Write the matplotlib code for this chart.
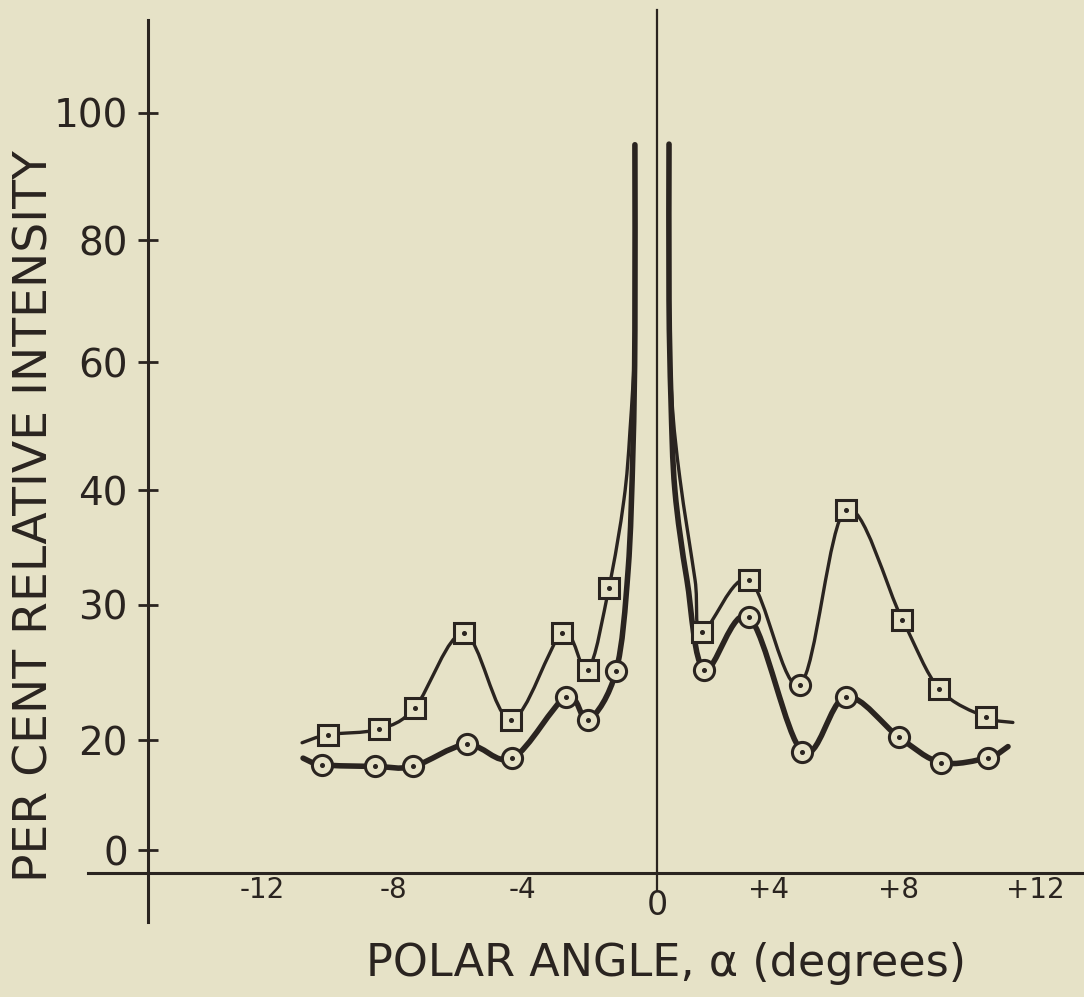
import numpy as np
import matplotlib
matplotlib.use("Agg")
import matplotlib.pyplot as plt
from matplotlib.path import Path
from matplotlib.patches import PathPatch
from matplotlib.transforms import Affine2D

# --- data (degrees, per cent) ---
# upper curve (squares), left and right of the central beam
sq_left_x = [-10.12, -8.56, -7.45, -5.94, -4.50, -2.92, -2.13, -1.48]
sq_left_y = [20.4, 20.8, 22.4, 27.9, 21.5, 27.9, 25.2, 31.5]
sq_right_x = [1.39, 2.83, 4.40, 5.81, 7.55, 8.68, 10.11]
sq_right_y = [28.0, 32.2, 24.1, 38.3, 28.9, 23.8, 21.7]
sq_right_kind = ["s", "s", "o", "s", "s", "s", "s"]  # one point drawn as a circle

# lower curve (circles)
ci_left_x = [-10.30, -8.68, -7.50, -5.86, -4.45, -2.80, -2.11, -1.26]
ci_left_y = [15.5, 15.2, 15.2, 19.2, 16.7, 23.2, 21.5, 25.1]
ci_right_x = [1.46, 2.83, 4.47, 5.81, 7.45, 8.74, 10.19]
ci_right_y = [25.2, 29.1, 17.9, 23.2, 20.2, 15.9, 16.8]

# line ends without a marker (tails and the rise into the direct beam)
sq_left_tail = ([-10.92], [19.5])
ci_left_tail = ([-10.89], [16.7])
sq_right_tail = ([10.95], [21.3])
ci_right_tail = ([10.80], [18.8])
sq_left_peak = ([-1.02, -0.83, -0.68, -0.68], [39.1, 49.4, 65.2, 95.0])
ci_left_peak = ([-0.89, -0.74, -0.68, -0.68], [33.0, 46.3, 65.2, 95.0])
sq_right_peak = ([0.37, 0.37, 0.46, 0.71, 1.17], [95.1, 70.2, 54.1, 41.6, 32.2])
ci_right_peak = ([0.37, 0.37, 0.43, 0.55, 0.92], [95.1, 70.2, 54.1, 40.0, 32.2])

y_ticks = [0, 20, 30, 40, 60, 80, 100]
x_ticks = [-12, -8, -4, 0, 4, 8, 12]
x_labels = ["-12", "-8", "-4", "0", "+4", "+8", "+12"]

BG = "#e6e2c7"
INK = "#2a2420"
X_PX = 32.5  # pixels per degree

# the hand drawn y axis is uneven: 0-20 squeezed, 20-40 stretched
y_knots = [-200, 0, 20, 30, 40, 60, 80, 100, 300]
h_knots = [-953, 147, 257, 392, 507, 635, 757, 884, 2154]


def fwd(v):
    return np.interp(v, y_knots, h_knots)


def inv(h):
    return np.interp(h, h_knots, y_knots)


def smooth_path(xs, ys):
    # catmull-rom through the points, as cubic bezier segments
    pts = np.column_stack([np.asarray(xs) * X_PX, fwd(np.asarray(ys))])
    ext = np.vstack([pts[0], pts, pts[-1]])
    verts = [pts[0]]
    codes = [Path.MOVETO]
    for i in range(len(pts) - 1):
        p0, p1, p2, p3 = ext[i], ext[i + 1], ext[i + 2], ext[i + 3]
        verts += [p1 + (p2 - p0) / 6, p2 - (p3 - p1) / 6, p2]
        codes += [Path.CURVE4] * 3
    verts = np.array(verts)
    verts[:, 0] /= X_PX
    verts[:, 1] = inv(verts[:, 1])
    return Path(verts, codes)


fig = plt.figure(figsize=(10.84, 9.97), dpi=100, facecolor=BG)
ax = fig.add_axes([0, 0, 1, 1], facecolor=BG)
ax.set_yscale("function", functions=(fwd, inv))
ax.set_xlim(-657 / X_PX, (1084 - 657) / X_PX)
ax.set_ylim(inv(0), inv(997))

# curves
curves = [
    (sq_left_tail, (sq_left_x, sq_left_y), sq_left_peak, 2.4),
    (ci_left_tail, (ci_left_x, ci_left_y), ci_left_peak, 4.0),
    (sq_right_peak, (sq_right_x, sq_right_y), sq_right_tail, 2.4),
    (ci_right_peak, (ci_right_x, ci_right_y), ci_right_tail, 4.0),
]
for a, m, b, lw in curves:
    xs = list(a[0]) + list(m[0]) + list(b[0])
    ys = list(a[1]) + list(m[1]) + list(b[1])
    ax.add_patch(PathPatch(smooth_path(xs, ys), fill=False, ec=INK, lw=lw,
                           capstyle="round", joinstyle="round", zorder=2))

# markers
mk = dict(ls="none", mfc=BG, mec=INK, mew=2.2, zorder=3)
ax.plot(sq_left_x, sq_left_y, marker="s", ms=14, **mk)
for kind in ["s", "o"]:
    xs = [x for x, k in zip(sq_right_x, sq_right_kind) if k == kind]
    ys = [y for y, k in zip(sq_right_y, sq_right_kind) if k == kind]
    ax.plot(xs, ys, marker=kind, ms=14 if kind == "s" else 14.5, **mk)
ax.plot(ci_left_x, ci_left_y, marker="o", ms=14.5, **mk)
ax.plot(ci_right_x, ci_right_y, marker="o", ms=14.5, **mk)
for xs, ys in [(sq_left_x, sq_left_y), (sq_right_x, sq_right_y),
               (ci_left_x, ci_left_y), (ci_right_x, ci_right_y)]:
    ax.plot(xs, ys, ls="none", marker="o", ms=2.6, color=INK, zorder=4)

# axes drawn like the original
for s in ["top", "right"]:
    ax.spines[s].set_visible(False)
ax.spines["left"].set_position(("data", (148 - 657) / X_PX))
ax.spines["left"].set_bounds(inv(997 - 922), inv(997 - 20))
ax.spines["bottom"].set_position(("data", inv(997 - 873)))
ax.spines["bottom"].set_bounds((88 - 657) / X_PX, (1084 - 657) / X_PX)
for s in ["left", "bottom"]:
    ax.spines[s].set_linewidth(2.2)
    ax.spines[s].set_color(INK)
ax.axvline(0, ymin=(997 - 890) / 997, ymax=(997 - 10) / 997, color=INK, lw=1.6)

ax.set_yticks(y_ticks)
ax.set_yticklabels([str(v) for v in y_ticks])
ax.yaxis.set_minor_locator(matplotlib.ticker.NullLocator())
ax.tick_params(axis="y", direction="inout", length=14.4, width=2.0, color=INK,
               labelsize=28, labelcolor=INK, pad=7.2)
ax.set_xticks(x_ticks)
ax.set_xticklabels(x_labels)
ax.tick_params(axis="x", length=0, labelsize=20, labelcolor=INK, pad=2.5)

# nudge x labels to where they sit in the original (pixels)
nudge = [(-5, 0), (-4, 0), (-5, 0), (0, -13), (-19, 0), (-19, 0), (-12, 0)]
for tick, (dx, dy) in zip(ax.xaxis.get_major_ticks(), nudge):
    lab = tick.label1
    lab.set_transform(lab.get_transform() + Affine2D().translate(dx, dy))
ax.xaxis.get_major_ticks()[3].label1.set_fontsize(24)

ax.set_ylabel("PER CENT RELATIVE INTENSITY", fontsize=34, color=INK)
ax.yaxis.set_label_coords(58 / 1084, (997 - 516) / 997)
ax.set_xlabel("POLAR ANGLE, α (degrees)", fontsize=32, color=INK)
ax.xaxis.set_label_coords(666 / 1084, (997 - 942) / 997)

fig.savefig("out.png", dpi=100, facecolor=BG)
